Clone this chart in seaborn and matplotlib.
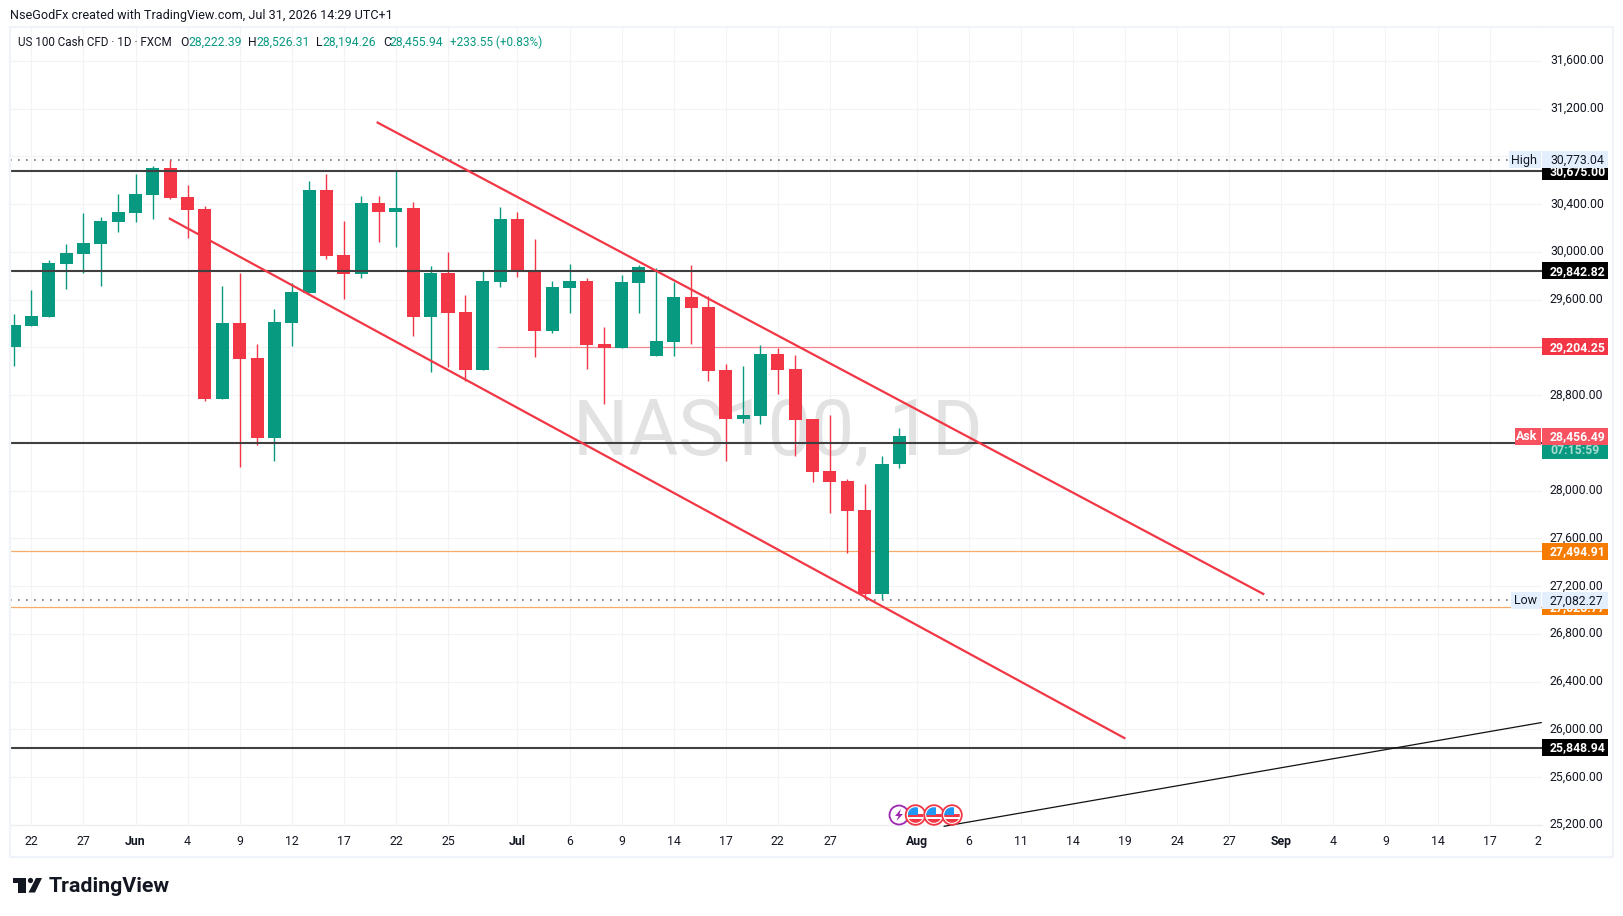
import numpy as np
import pandas as pd
import matplotlib
matplotlib.use("Agg")
import matplotlib.pyplot as plt
from matplotlib.patches import Rectangle, Circle, Polygon
from matplotlib.transforms import Affine2D, ScaledTranslation
import seaborn as sns

opens = [29204,29380,29455,29898,29982,30066,30250,30325,30475,30701,30459,30358,28770,29405,29112,28444,29405,29656,30517,29974,29815,30408,30333,30367,29455,29823,29497,29012,29748,30275,29848,29338,29698,29756,29229,29196,29739,29129,29246,29622,29539,29012,28602,28627,29146,29020,28602,28168,28084,27842,27139,28222.39]
highs = [29480,29681,29932,30066,30325,30291,30484,30651,30718,30773,30559,30383,29714,29823,29229,29522,29739,30592,30651,30258,30467,30467,30676,30417,29882,29999,29639,29840,30375,30333,30107,29756,29898,29781,29372,29806,29890,29865,29748,29890,29631,29062,29045,29221,29196,29137,28602,28636,28101,28059,28293,28526.31]
lows = [29045,29380,29455,29689,29823,29714,30166,30250,30275,30442,30116,28753,28770,28201,28385,28251,29213,29656,29940,29606,29781,30082,30040,29296,28995,29037,28920,29012,29706,29790,29121,29321,29489,29020,28728,29196,29489,29129,29129,29229,28920,28251,28569,28561,28811,28293,28076,27816,27482,27089,27089,28194.26]
closes = [29388,29464,29907,29990,30074,30258,30333,30484,30701,30450,30350,28770,29405,29104,28444,29413,29664,30517,29965,29815,30408,30333,30367,29455,29823,29489,29012,29756,30275,29840,29338,29706,29756,29221,29196,29748,29873,29255,29622,29530,29004,28602,28636,29146,29012,28594,28159,28076,27833,27139,28226,28455.94]

tick_index = [1,4,7,10,13,16,19,22,25,29,32,35,38,41,44,47,52,55,58,61,64,67,70,73,76,79,82,85,88]
tick_labels = ["22","27","Jun","4","9","12","17","22","25","Jul","6","9","14","17","22","27","Aug","6","11","14","19","24","27","Sep","4","9","14","17","2"]
month_labels = ["Jun","Jul","Aug","Sep"]
price_ticks = list(range(25200, 31601, 400))

channel_upper = ([20.89, 72.02], [31088, 27131])
channel_lower = ([8.92, 64.02], [30283, 25924])
rising_line = ([53.57, 87.98], [25189, 26058])
black_levels = [30675.00, 29842.82, 28404, 25848.94]
orange_levels = [27494.91, 27028.77]
red_level = 29204.25
red_level_start = 27.88
session_high = 30773.04
session_low = 27082.27
ask_price = 28456.49

GREEN = "#089981"
RED = "#f23645"
W, H = 1623, 916

sns.set_theme(style="white")
plt.rcParams["font.family"] = ["Roboto", "DejaVu Sans"]

fig = plt.figure(figsize=(W / 100, H / 100), dpi=100, facecolor="white")
L, R, T, B = 10, 1542, 27, 825
ax = fig.add_axes([L / W, 1 - B / H, (R - L) / W, (B - T) / H], facecolor="white")
PX = Affine2D().scale(1, -1).translate(0, H)

df = pd.DataFrame({"i": np.arange(len(opens)), "o": opens, "h": highs, "l": lows, "c": closes})
df["up"] = df.c >= df.o
df["bottom"] = df[["o", "c"]].min(axis=1)
df["body"] = (df.o - df.c).abs()

for up, colour in [(True, GREEN), (False, RED)]:
    sub = df[df.up == up]
    long = pd.concat([sub[["i", "h"]].rename(columns={"h": "p"}), sub[["i", "l"]].rename(columns={"l": "p"})])
    sns.lineplot(data=long, x="i", y="p", units="i", estimator=None, color=colour,
                 linewidth=1.0, solid_capstyle="butt", legend=False, ax=ax, zorder=3)
    sns.barplot(data=sub, x="i", y="body", bottom=sub["bottom"].to_numpy(), native_scale=True, orient="x",
                width=0.75, color=colour, saturation=1, errorbar=None, linewidth=0, ax=ax, zorder=4)

ax.set_xlim((L - 14) / 17.36, (R - 14) / 17.36)
ax.set_ylim(31600 - (B - 61) / 0.11948, 31600 + (61 - T) / 0.11948)
ax.set_xlabel("")
ax.set_ylabel("")
ax.set_xticks(tick_index)
ax.set_xticklabels(tick_labels)
ax.yaxis.tick_right()
ax.set_yticks(price_ticks)
ax.set_yticklabels([f"{p:,.2f}" for p in price_ticks])
ax.tick_params(axis="both", length=0, labelsize=8.8, labelcolor="#131722")
ax.tick_params(axis="x", pad=7.5)
ax.tick_params(axis="y", pad=5.7)
for lab in ax.get_yticklabels():
    lab.set_transform(lab.get_transform() + ScaledTranslation(0, 1.4 / 72, fig.dpi_scale_trans))
for lab in ax.get_xticklabels():
    if lab.get_text() in month_labels:
        lab.set_fontweight("bold")
ax.get_xticklabels()[-1].set_ha("right")
ax.grid(True, color="#f2f3f5", linewidth=0.8, zorder=0)
ax.set_axisbelow(True)
for name, sp in ax.spines.items():
    sp.set_visible(name == "bottom")
    sp.set_color("#eceef3")
    sp.set_linewidth(1.0)

ax.text(778, 455, "NAS100, 1D", color="#e2e2e2", fontsize=55.5, ha="center", va="baseline",
        transform=PX, zorder=1)

ax.plot(*channel_upper, color=RED, lw=1.6, zorder=6, solid_capstyle="butt")
ax.plot(*channel_lower, color=RED, lw=1.6, zorder=6, solid_capstyle="butt")
ax.plot(*rising_line, color="#111111", lw=0.9, zorder=6, clip_on=False)
for lvl in black_levels:
    ax.axhline(lvl, color="#404040", lw=1.5, zorder=5)
for lvl in orange_levels:
    ax.axhline(lvl, color="#f4ab6c", lw=0.9, zorder=2)
ax.plot([red_level_start, ax.get_xlim()[1]], [red_level, red_level], color="#f7858f", lw=0.9, zorder=2)
for lvl in (session_high, session_low):
    ax.axhline(lvl, color="#6b6e78", lw=1.2, linestyle=(0, (1.0, 3.8)), zorder=2)


def ypx(price):
    return H - ax.transData.transform((0, price))[1]


def box(x, y, w, h, colour, z):
    fig.add_artist(Rectangle((x, y), w, h, facecolor=colour, edgecolor="none", transform=PX, zorder=z))


def tag(price, text, bg, fg, z, weight="normal", tag_h=17):
    y = ypx(price)
    box(1542, y - tag_h / 2, 66, tag_h, bg, z)
    fig.text(1550, y + 0.5, text, color=fg, fontsize=8.8, va="center", ha="left", transform=PX,
             zorder=z + 0.1, fontweight=weight)


# outer frame of the chart panel
fig.add_artist(Rectangle((9.5, 26.5), 1603, 830, facecolor="none", edgecolor="#f0f3fa", linewidth=1.6, transform=PX, zorder=2))

tag(30675.00, "30,675.00", "#000000", "#ffffff", 10, "bold")
tag(session_high, "30,773.04", "#e3effd", "#131722", 11)
tag(29842.82, "29,842.82", "#000000", "#ffffff", 10, "bold")
tag(29204.25, "29,204.25", RED, "#ffffff", 10, "bold")
box(1542, 444.5, 66, 14.5, GREEN, 10)
fig.text(1550, 450.5, "07:15:59", color="#a8dcd0", fontsize=8.8, va="center", transform=PX, zorder=10.1, fontweight="bold")
tag(ask_price, "28,456.49", "#f7525f", "#ffffff", 11, "bold")
tag(27494.91, "27,494.91", "#f57c00", "#ffffff", 10, "bold")
tag(27028.77, "27,028.77", "#f57c00", "#ffffff", 10, "bold")
tag(session_low, "27,082.27", "#e3effd", "#131722", 11)
tag(25848.94, "25,848.94", "#000000", "#ffffff", 10, "bold")

for price, text, x0, bg, fg in [(session_high, "High", 1509, "#e3effd", "#131722"),
                                (session_low, "Low", 1511, "#e3effd", "#131722"),
                                (ask_price, "Ask", 1515, "#f7525f", "#ffffff")]:
    y = ypx(price)
    box(x0, y - 8.5, 1541 - x0, 17, bg, 11)
    fig.text(1537, y + 0.5, text, color=fg, fontsize=9, va="center", ha="right", transform=PX, zorder=11.1,
             fontweight="bold" if text == "Ask" else "normal")

# header
fig.text(10, 15, "NseGodFx created with TradingView.com, Jul 31, 2026 14:29 UTC+1", color="#131722",
         fontsize=9.1, va="center", transform=PX)
legend_parts = [(18, "US 100 Cash CFD · 1D · FXCM", "#131722", 8.4), (180, "O", "#131722", 8.7), (188, "28,222.39", GREEN, 8.7),
                (248, "H", "#131722", 8.7), (256, "28,526.31", GREEN, 8.7), (316, "L", "#131722", 8.7), (322, "28,194.26", GREEN, 8.7),
                (383, "C", "#131722", 8.7), (389, "28,455.94", GREEN, 8.7), (450, "+233.55 (+0.83%)", GREEN, 8.5)]
for x, s, c, fs in legend_parts:
    fig.text(x, 42, s, color=c, fontsize=fs, va="center", transform=PX, zorder=5)

# TradingView logo
box(12.5, 878, 13.5, 4.8, "#131722", 5)
box(17.5, 878, 8.5, 14.5, "#131722", 5)
fig.add_artist(Circle((30.5, 880.5), 2.6, facecolor="#131722", edgecolor="none", transform=PX, zorder=5))
fig.add_artist(Polygon([[36, 878], [42, 878], [35, 892.5], [28.5, 892.5]], closed=True, facecolor="#131722",
                       edgecolor="none", transform=PX, zorder=5))
fig.text(49, 886.5, "TradingView", color="#131722", fontsize=15.4, fontweight="semibold", va="center", transform=PX)

# event markers
cy = 815
fig.add_artist(Circle((899, cy), 9.5, facecolor="white", edgecolor="#9c27b0", linewidth=1.3, transform=PX, zorder=7))
fig.add_artist(Polygon([[901, 809], [895, 816], [898.5, 816], [896.5, 821], [903, 814], [899.5, 814]], closed=True,
                       facecolor="#9c27b0", edgecolor="none", transform=PX, zorder=7.1))
for cx in (915.5, 934, 952):
    ring = Circle((cx, cy), 9.8, facecolor="white", edgecolor=RED, linewidth=1.3, transform=PX, zorder=8)
    fig.add_artist(ring)
    clip = Circle((cx, cy), 7.8, transform=PX)
    for yy, hh, ww, xx, col in [(cy - 1, 3, 16, cx - 8, RED), (cy + 3.5, 5, 16, cx - 8, RED), (cy - 8, 8, 10, cx - 8, "#2196f3")]:
        r = Rectangle((xx, yy), ww, hh, facecolor=col, edgecolor="none", transform=PX, zorder=8.1)
        fig.add_artist(r)
        r.set_clip_path(clip)

fig.savefig("out.png", dpi=100, facecolor="white")
